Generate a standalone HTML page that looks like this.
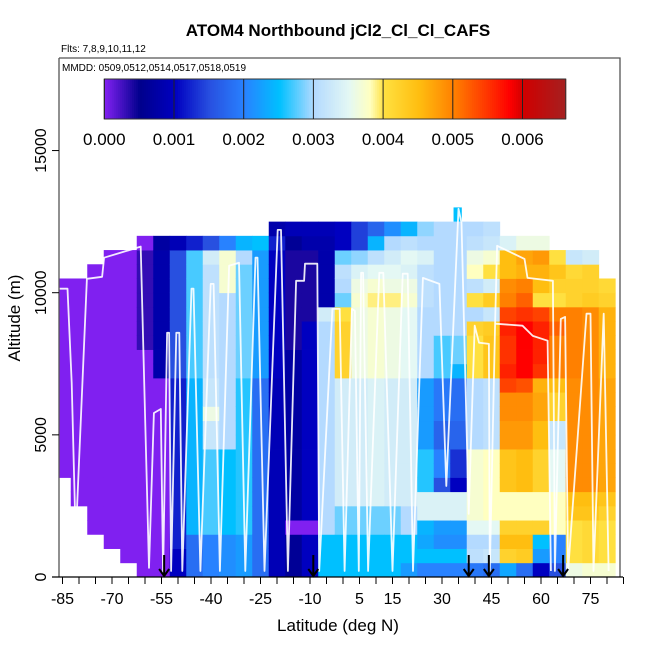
<!DOCTYPE html>
<html><head><meta charset="utf-8">
<style>
html,body{margin:0;padding:0;background:#fff;}
svg{display:block;font-family:"Liberation Sans",Arial,sans-serif;}
</style></head>
<body>
<svg id="chart" width="650" height="650" viewBox="0 0 650 650" xmlns="http://www.w3.org/2000/svg">
<rect width="650" height="650" fill="#fff"/>
<text x="338" y="36" text-anchor="middle" font-size="17" font-weight="bold">ATOM4 Northbound jCl2_Cl_Cl_CAFS</text>
<text x="61" y="52" font-size="10">Flts: 7,8,9,10,11,12</text>
<text x="62" y="71" font-size="10">MMDD: 0509,0512,0514,0517,0518,0519</text>
<g id="cells"></g>
<g id="track"></g>
<g id="arrows"></g>
<g id="cbar"></g>
<g id="axes"></g>
<text x="338" y="631" text-anchor="middle" font-size="17">Latitude (deg N)</text>
<text transform="translate(20,318) rotate(-90)" text-anchor="middle" font-size="17">Altitude (m)</text>
</svg>
<script>
// ---- data ----
const latCenters = [-85,-80,-75,-70,-65,-60,-55,-50,-45,-40,-35,-30,-25,-20,-15,-10,-5,0,5,10,15,20,25,30,35,40,45,50,55,60,65,70,75,80];
const altBottoms = [0,500,1000,1500,2000,2500,3000,3500,4000,4500,5000,5500,6000,6500,7000,7500,8000,8500,9000,9500,10000,10500,11000,11500,12000];
// values in units of 1e-4 (jCl2), per column, indexed by altitude row; null = no data
const N = null;
const col00 = [N,N,N,N,N,N,N,0,0,0,0,0,0,0,0,0,0,0,0,0,0,N,N,N,N];
const col01 = [N,N,N,N,N,0,0,0,0,0,0,0,0,0,0,0,0,0,0,0,0,N,N,N,N];
const col02 = [N,N,N,0,0,0,0,0,0,0,0,0,0,0,0,0,0,0,0,0,0,0,N,N,N];
const col03 = [N,N,0,0,0,0,0,0,0,0,0,0,0,0,0,0,0,0,0,0,0,0,0,N,N];
const col04 = [N,0,0,0,0,0,0,0,0,0,0,0,0,0,0,0,0,0,0,0,0,0,0,N,N];
const col05 = [0,0,0,0,0,0,0,0,0,0,0,0,0,0,0,0,3,3,3,3,3,3,3,0,N];
const col06 = [0,0,0,0,0,0,0,0,0,0,0,0,0,0,8,8,8,8,8,8,8,8,8,7,N];
const col07 = [10,10,12,12,12,12,12,12,12,12,12,12,12,12,15,15,15,15,15,15,15,15,15,9,N];
const col08 = [18,18,18,24,24,24,24,24,24,24,24,24,24,24,27,27,27,27,27,27,27,27,27,12,N];
const col09 = [20,20,20,27,27,27,27,27,27,32,32,36,32,32,31,31,31,31,31,31,31,31,33,15,N];
const col10 = [21,21,21,25,25,25,25,25,25,30,30,30,30,30,30,30,30,30,30,30,37,37,37,20,N];
const col11 = [22,22,22,26,26,26,26,26,26,26,26,26,26,26,28,28,28,28,28,28,28,28,30,24,N];
const col12 = [18,18,18,18,18,18,18,18,18,18,18,18,18,18,22,22,22,22,22,22,22,22,22,25,N];
const col13 = [9,9,9,9,9,9,9,9,9,9,9,9,9,9,10,10,10,10,10,10,10,10,10,12,8];
const col14 = [6,6,6,0,7,7,7,7,7,7,7,7,7,7,7,7,4,4,4,4,4,4,4,6,9];
const col15 = [10,10,10,0,10,10,10,10,10,10,10,10,10,10,10,10,10,10,4,4,4,4,4,8,9];
const col16 = [25,25,25,30,30,30,30,30,30,30,30,30,30,30,30,30,30,30,33,8,8,8,8,8,9];
const col17 = [25,25,25,28,28,33,33,33,33,33,33,33,33,33,42,42,42,42,40,28,30,31,28,10,10];
const col18 = [25,25,25,28,28,33,33,33,33,33,33,33,33,33,36,36,36,36,36,37,36,34,29,14,14];
const col19 = [25,25,25,28,28,34,34,34,34,34,34,34,34,34,37,37,37,37,37,39,37,35,31,24,17];
const col20 = [25,25,25,28,28,33,33,33,33,33,33,33,33,33,36,36,36,36,36,39,36,35,33,30,21];
const col21 = [22,25,25,30,30,33,33,33,33,33,33,33,33,33,35,35,35,35,35,37,36,34,35,31,24];
const col22 = [20,25,23,24,34,34,26,26,26,22,22,22,22,22,30,30,30,30,30,31,31,31,34,30,29];
const col23 = [20,25,21,22,34,34,15,20,20,17,17,19,19,19,27,27,27,30,30,30,30,30,30,30,30];
const col24 = [20,25,21,22,34,34,10,13,13,17,17,18,18,18,24,28,28,30,30,30,30,30,30,30,30];
const col25 = [19,31,30,35,37,37,37,37,37,30,30,30,30,30,40,40,40,42,30,40,31,38,36,31,30];
const col26 = [18,32,30,35,38,38,38,38,38,31,31,31,31,31,44,44,44,43,32,43,33,40,37,32,31];
const col27 = [23,42,45,42,38,38,44,44,44,48,48,49,49,54,56,55,55,56,54,50,49,45,45,34,N];
const col28 = [18,43,45,42,38,38,45,45,45,48,48,49,49,53,58,58,58,58,55,52,50,46,47,36,N];
const col29 = [10,22,25,42,38,38,42,42,42,45,45,47,47,46,55,56,56,56,54,40,45,46,48,36,N];
const col30 = [15,20,20,38,38,38,35,35,35,32,32,42,42,45,50,50,50,52,50,40,42,44,40,N,N];
const col31 = [36,40,40,40,44,45,49,49,49,49,49,49,49,49,50,50,50,50,50,42,42,41,32,N,N];
const col32 = [37,41,41,41,44,45,49,49,49,49,49,49,49,49,49,49,49,49,49,43,42,42,33,N,N];
const col33 = [37,40,40,40,42,44,47,47,47,47,47,47,47,47,46,46,46,46,46,42,41,N,N,N,N];
const columns = [col00,col01,col02,col03,col04,col05,col06,col07,col08,col09,col10,col11,col12,col13,col14,col15,col16,col17,col18,col19,col20,col21,col22,col23,col24,col25,col26,col27,col28,col29,col30,col31,col32,col33];
// flight track (lat, alt m)
const trackLat = [-87.5,-83.5,-82.2,-81,-77.6,-73,-72.4,-61.3,-58.8,-57.3,-55.2,-54.5,-53.3,-52.7,-52.1,-50.5,-49.6,-48.7,-45.9,-45.3,-43.2,-40.1,-39.2,-37.3,-34.5,-31.5,-29.6,-26.5,-25.9,-23.8,-19.8,-18.8,-16.7,-14.2,-11.8,-11.5,-7.8,-7.2,-3.2,-1,0.5,2.7,3.6,4.8,5.5,6.1,7.6,11,12.2,15,18.1,19.6,21.2,24.2,29.2,31.3,35,35.9,38.1,39.9,41.2,44.2,44.5,46.1,46.7,55,55.9,63.6,64.2,66,67.3,68.2,73.8,75,75.9,79,80.5];
const trackAlt = [10140,10140,6830,1340,10490,10560,11230,11620,320,5770,5910,100,8590,8590,210,8590,8590,210,10140,10140,210,10310,10310,210,10950,11050,210,11230,11230,210,12210,12210,210,10420,10420,11020,11020,210,9430,9430,210,9430,9360,210,10700,10700,210,10700,10700,210,10670,10670,210,10520,10310,3200,12950,12460,2220,8840,8240,8200,210,8910,11650,11190,10520,10420,210,9080,9150,210,9260,9260,210,9260,210];
const secondLat = [46.1,54.4,57.5,62,63];
const secondAlt = [8910,8840,8480,8310,210];
const arrowLats = [-54.2,-9,38.1,44.2,66.7];
const xTicks = [-85,-70,-55,-40,-25,-10,5,15,30,45,60,75];
const yTicks = [0,5000,10000,15000];
const cbTicks = [0,0.001,0.002,0.003,0.004,0.005,0.006];
const cbLabels = ["0.000","0.001","0.002","0.003","0.004","0.005","0.006"];

// ---- scales ----
const X = lat => 62.5 + (lat + 85) * 3.3;
const Y = alt => 577 - alt * 0.02843;
const stops = [[0,[128,32,240]],[0.0005,[0,0,140]],[0.001,[0,0,192]],[0.0015,[40,80,224]],[0.002,[40,130,255]],[0.0025,[0,192,255]],[0.003,[180,218,255]],[0.0035,[228,248,244]],[0.0038,[255,255,192]],[0.004,[255,224,64]],[0.0045,[255,190,16]],[0.005,[255,128,0]],[0.0055,[255,50,0]],[0.0058,[255,0,0]],[0.006,[208,0,0]],[0.0066,[165,32,32]]];
function cmap(v){
  if(v<=stops[0][0]) return 'rgb('+stops[0][1].join(',')+')';
  for(let i=1;i<stops.length;i++){
    if(v<=stops[i][0]){
      const a=stops[i-1],b=stops[i],t=(v-a[0])/(b[0]-a[0]);
      return 'rgb('+a[1].map((c,k)=>Math.round(c+(b[1][k]-c)*t)).join(',')+')';
    }
  }
  return 'rgb('+stops[stops.length-1][1].join(',')+')';
}
const NS='http://www.w3.org/2000/svg';
function mk(tag,attrs,parent){const e=document.createElementNS(NS,tag);for(const k in attrs)e.setAttribute(k,attrs[k]);parent.appendChild(e);return e;}

// ---- heatmap ----
const gC=document.getElementById('cells');
columns.forEach((col,ci)=>{
  const lat=latCenters[ci];
  const x0=Math.max(59,X(lat-2.5)), x1=Math.min(620,X(lat+2.5));
  col.forEach((v,ri)=>{
    if(v===null) return;
    const a=altBottoms[ri];
    const r=mk('rect',{x:x0.toFixed(2),y:Y(a+500).toFixed(2),width:(x1-x0+0.4).toFixed(2),height:(Y(a)-Y(a+500)+0.4).toFixed(2),fill:cmap(v*1e-4)},gC);
    
    
  });
});
const sp=mk('rect',{x:X(33.5),y:Y(13000),width:X(36)-X(33.5),height:Y(12500)-Y(13000),fill:cmap(0.0025)},gC);



// ---- track ----
const gT=document.getElementById('track');
function line(lats,alts){
  const p=mk('polyline',{points:lats.map((l,i)=>X(l).toFixed(1)+','+Y(alts[i]).toFixed(1)).join(' '),fill:'none',stroke:'#fff','stroke-width':'1.8','stroke-opacity':'0.9','stroke-linejoin':'round'},gT);
  
  
}
line(trackLat,trackAlt);
line(secondLat,secondAlt);

// ---- arrows ----
const gA=document.getElementById('arrows');
arrowLats.forEach(l=>{
  const x=X(l);
  const g=mk('path',{d:`M${x},555 L${x},576 M${x-5},569 L${x},576 L${x+5},569`,stroke:'#000','stroke-width':'2',fill:'none'},gA);
  
  
});

// ---- colorbar ----
const gB=document.getElementById('cbar');
const cbX=v=>104.3+v*69700;
for(let i=0;i<232;i++){
  const v=i/232*0.00662;
  mk('rect',{x:cbX(v).toFixed(2),y:79,width:(cbX(0.00662/232)-104.3+0.5).toFixed(2),height:40,fill:cmap(v)},gB);
}
mk('rect',{x:104.3,y:79,width:cbX(0.00662)-104.3,height:40,fill:'none',stroke:'#333','stroke-width':'1'},gB);
cbTicks.forEach((v,i)=>{
  mk('line',{x1:cbX(v),x2:cbX(v),y1:79,y2:119,stroke:'#222','stroke-width':'1'},gB);
  const t=mk('text',{x:cbX(v),y:145,'text-anchor':'middle','font-size':'17'},gB);
  t.textContent=cbLabels[i];
  
  
});

// ---- axes ----
const gX=document.getElementById('axes');
mk('path',{d:'M59,58 L620,58 L620,577 M59,58 L59,577',fill:'none',stroke:'#555','stroke-width':'1.3'},gX);
mk('line',{x1:52,x2:623,y1:577,y2:577,stroke:'#000','stroke-width':'1.3'},gX);
for(let l=-95;l<=90;l+=5){
  const x=X(l); if(x<52||x>624) continue;
  mk('line',{x1:x,x2:x,y1:577,y2:584,stroke:'#000','stroke-width':'1'},gX);
}
xTicks.forEach(l=>{
  const t=mk('text',{x:X(l),y:604,'text-anchor':'middle','font-size':'16'},gX);
  t.textContent=String(l);
  
  
});
yTicks.forEach(a=>{
  const y=Y(a);
  mk('line',{x1:52,x2:59,y1:y,y2:y,stroke:'#000','stroke-width':'1'},gX);
  const t=mk('text',{transform:`translate(46,${y}) rotate(-90)`,'text-anchor':'middle','font-size':'16'},gX);
  t.textContent=String(a);
  
  
});
</script>
</body></html>
